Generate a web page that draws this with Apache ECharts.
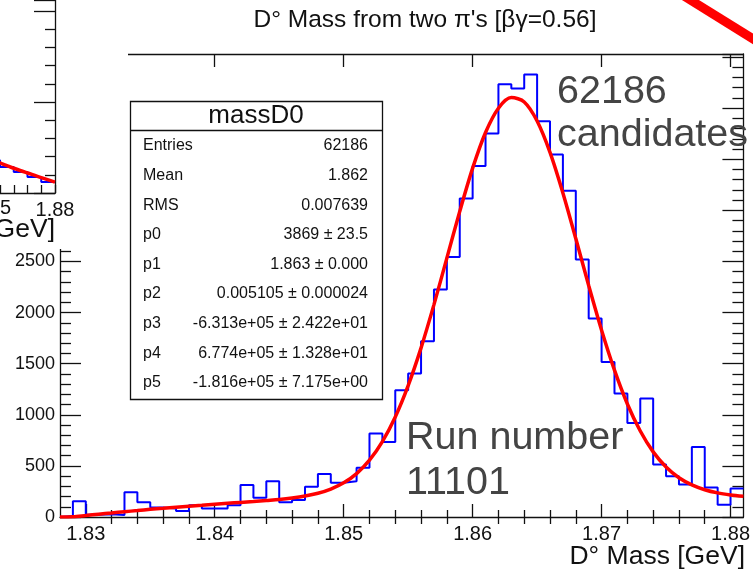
<!DOCTYPE html>
<html><head><meta charset="utf-8">
<script src="https://cdn.jsdelivr.net/npm/echarts@6/dist/echarts.min.js"></script>
<style>html,body{margin:0;padding:0;background:#fff}#c{width:753px;height:571px}</style>
</head><body><div id="c"></div>
<script>
// ---------------- data ----------------
const massEdges = [1.828,1.829,1.830,1.831,1.832,1.833,1.834,1.835,1.836,1.837,1.838,1.839,1.840,1.841,1.842,1.843,1.844,1.845,1.846,1.847,1.848,1.849,1.850,1.851,1.852,1.853,1.854,1.855,1.856,1.857,1.858,1.859,1.860,1.861,1.862,1.863,1.864,1.865,1.866,1.867,1.868,1.869,1.870,1.871,1.872,1.873,1.874,1.875,1.876,1.877,1.878,1.879,1.880,1.881];
const massCounts = [10,155,22,28,20,242,145,93,84,58,116,82,82,115,313,188,351,144,166,296,420,334,350,483,816,734,1240,1404,1720,2226,2545,3117,3433,3753,4233,4193,4330,3873,3547,3191,2520,1942,1517,1208,920,1159,513,398,317,685,288,121,278];
const fitMass = [1.828,1.829,1.830,1.831,1.832,1.833,1.834,1.835,1.836,1.837,1.838,1.839,1.840,1.841,1.842,1.843,1.844,1.845,1.846,1.847,1.848,1.849,1.850,1.851,1.852,1.853,1.854,1.855,1.856,1.857,1.858,1.859,1.860,1.861,1.862,1.863,1.864,1.865,1.866,1.867,1.868,1.869,1.870,1.871,1.872,1.873,1.874,1.875,1.876,1.877,1.878,1.879,1.880,1.881];
const fitValues = [0,2,15,28,40,52,63,75,85,96,106,115,125,134,143,152,162,172,186,205,232,273,334,425,556,738,979,1286,1655,2078,2533,2990,3413,3762,4000,4104,4061,3875,3568,3171,2724,2265,1828,1437,1106,841,637,489,384,314,267,236,216,202];
const xMajorTicks = [1.83,1.84,1.85,1.86,1.87,1.88];
const xMinorTicks = [1.832,1.834,1.836,1.838,1.842,1.844,1.846,1.848,1.852,1.854,1.856,1.858,1.862,1.864,1.866,1.868,1.872,1.874,1.876,1.878];
const statsTitle = 'massD0';
const statsLabels = ['Entries','Mean','RMS','p0','p1','p2','p3','p4','p5'];
const statsValues = ['62186','1.862','0.007639','3869 \u00b1 23.5','1.863 \u00b1 0.000','0.005105 \u00b1 0.000024','-6.313e+05 \u00b1 2.422e+01','6.774e+05 \u00b1 1.328e+01','-1.816e+05 \u00b1 7.175e+00'];
const titleText = 'D\u00b0 Mass from two \u03c0\'s [\u03b2\u03b3=0.56]';
const xTitle = 'D\u00b0 Mass [GeV]';
const noteTop = ['62186','candidates'];
const noteBottom = ['Run number','11101'];
// partial neighbouring plot (left, mostly cut off)
const leftEdges = [1.875,1.876,1.877,1.878,1.879,1.880];
const leftCounts = [180,143,115,88,60];
const leftFitMass = [1.875,1.876,1.877,1.878,1.879,1.880];
const leftFitValues = [195,165,136,110,84,60];
const leftTicks = [1.876,1.877,1.878,1.879,1.880];
const leftLabels = [1.88];
const leftCutLabel = '1.875';

// ---------------- build ----------------
const FONT = '"Liberation Sans", Arial, Helvetica, sans-serif';
const AX = '#111';
function histPoints(edges, counts){
  const pts = [[edges[0],0]];
  for (let i=0;i<counts.length;i++) pts.push([edges[i],counts[i]]);
  pts.push([edges[counts.length],counts[counts.length-1]]);
  return pts;
}
function pairs(xs, ys){ return xs.map((x,i)=>[x,ys[i]]); }

const chart = echarts.init(document.getElementById('c'), null, {renderer:'canvas'});
const lineStyle = {color:AX, width:1.3};
function xAx(grid, pos, min, max, ticks, len, labels, extra){
  return Object.assign({
    gridIndex:grid, type:'value', position:pos, min:min, max:max,
    axisLine:{show:true, onZero:false, lineStyle:lineStyle},
    axisTick:{show:true, inside:true, length:len, customValues:ticks, lineStyle:lineStyle},
    axisLabel:labels ? {show:true, customValues:labels, formatter:v=>String(+(+v).toFixed(3)), fontSize:20, color:'#111', margin:7, fontFamily:FONT} : {show:false},
    splitLine:{show:false}
  }, extra||{});
}
function txt(s, x, y, size, fill, align, z){
  return {type:'text', x:x, y:y, style:{text:s, font:size+'px '+FONT, fill:fill, align:align, verticalAlign:'middle', textAlign:align, textVerticalAlign:'middle'}, z:z||91};
}
const statsEls = [];
statsEls.push({type:'rect', shape:{x:130.5,y:101.5,width:252,height:298}, style:{fill:'#fff',stroke:AX,lineWidth:1.3}, z:90});
statsEls.push({type:'line', shape:{x1:130.5,y1:130.5,x2:382.5,y2:130.5}, style:{stroke:AX,lineWidth:1.3}, z:91});
statsEls.push(txt(statsTitle, 256, 116, 26, '#111', 'center'));
statsLabels.forEach((lab,i)=>{
  const y = 146 + i*29.6;
  statsEls.push(txt(lab, 143, y, 16, '#111', 'left'));
  statsEls.push(txt(statsValues[i], 368, y, 16, '#111', 'right'));
});

chart.setOption({
  animation:false,
  backgroundColor:'#fff',
  grid:[
    {left:60, right:6, top:54, bottom:54},
    {left:0, right:698, top:0, bottom:378}
  ],
  xAxis:[
    xAx(0,'bottom',1.828,1.881,xMajorTicks,13,xMajorTicks),
    xAx(0,'bottom',1.828,1.881,xMinorTicks,7,null,{axisLine:{show:false}}),
    xAx(0,'top',1.828,1.881,xMajorTicks,13,null),
    xAx(0,'top',1.828,1.881,xMinorTicks,7,null,{axisLine:{show:false}}),
    xAx(1,'bottom',1.876,1.880,leftTicks,8,leftLabels,{z:120})
  ],
  yAxis:[
    {gridIndex:0, type:'value', position:'left', min:0, max:4530, interval:500,
     axisLine:{show:true,onZero:false,lineStyle:lineStyle},
     axisTick:{show:true,inside:true,length:21,lineStyle:lineStyle},
     minorTick:{show:true,splitNumber:5,length:11,lineStyle:lineStyle},
     axisLabel:{fontSize:18,color:'#111',margin:5,fontFamily:FONT,formatter:v=>String(v)},
     splitLine:{show:false}, minorSplitLine:{show:false}},
    {gridIndex:0, type:'value', position:'right', min:0, max:4530, interval:500,
     axisLine:{show:true,onZero:false,lineStyle:lineStyle},
     axisTick:{show:true,inside:true,length:21,lineStyle:lineStyle},
     minorTick:{show:true,splitNumber:5,length:11,lineStyle:lineStyle},
     axisLabel:{show:false}, splitLine:{show:false}, minorSplitLine:{show:false}},
    {gridIndex:1, type:'value', position:'right', min:0, max:1060, interval:500, z:120,
     axisLine:{show:true,onZero:false,lineStyle:lineStyle},
     axisTick:{show:true,inside:true,length:21,lineStyle:lineStyle},
     minorTick:{show:true,splitNumber:5,length:10,lineStyle:lineStyle},
     axisLabel:{show:false}, splitLine:{show:false}, minorSplitLine:{show:false}}
  ],
  series:[
    {type:'line', xAxisIndex:0, yAxisIndex:0, data:histPoints(massEdges,massCounts), step:'end', symbol:'none',
     lineStyle:{color:'#0000ff', width:2}, z:3},
    {type:'line', xAxisIndex:0, yAxisIndex:0, data:pairs(fitMass,fitValues), smooth:0.3, symbol:'none',
     lineStyle:{color:'#ff0000', width:3.5}, z:4},
    {type:'line', xAxisIndex:4, yAxisIndex:2, data:histPoints(leftEdges,leftCounts), step:'end', symbol:'none',
     lineStyle:{color:'#0000ff', width:2}, z:120},
    {type:'line', xAxisIndex:4, yAxisIndex:2, data:pairs(leftFitMass,leftFitValues), smooth:0.3, symbol:'none',
     lineStyle:{color:'#ff0000', width:3.5}, z:121}
  ],
  graphic:{elements:[
    {type:'rect', shape:{x:0,y:0,width:128,height:249}, style:{fill:'#fff'}, z:100},
    {type:'line', shape:{x1:684,y1:-4,x2:758,y2:42}, style:{stroke:'#ff0000',lineWidth:9}, z:100},
    txt(titleText, 425, 20, 24.5, '#111', 'center'),
    txt(xTitle, 745, 557, 26.5, '#111', 'right'),
    txt(xTitle, 55, 230, 26.5, '#111', 'right', 121),
    txt(leftCutLabel, -14, 208, 20, '#111', 'center', 121),
    txt(noteTop[0], 557, 92, 39.5, '#444', 'left'),
    txt(noteTop[1], 557, 135, 39.5, '#444', 'left'),
    txt(noteBottom[0], 406, 438, 39.5, '#444', 'left'),
    txt(noteBottom[1], 406, 483, 39.5, '#444', 'left')
  ].concat(statsEls)}
});
</script></body></html>
